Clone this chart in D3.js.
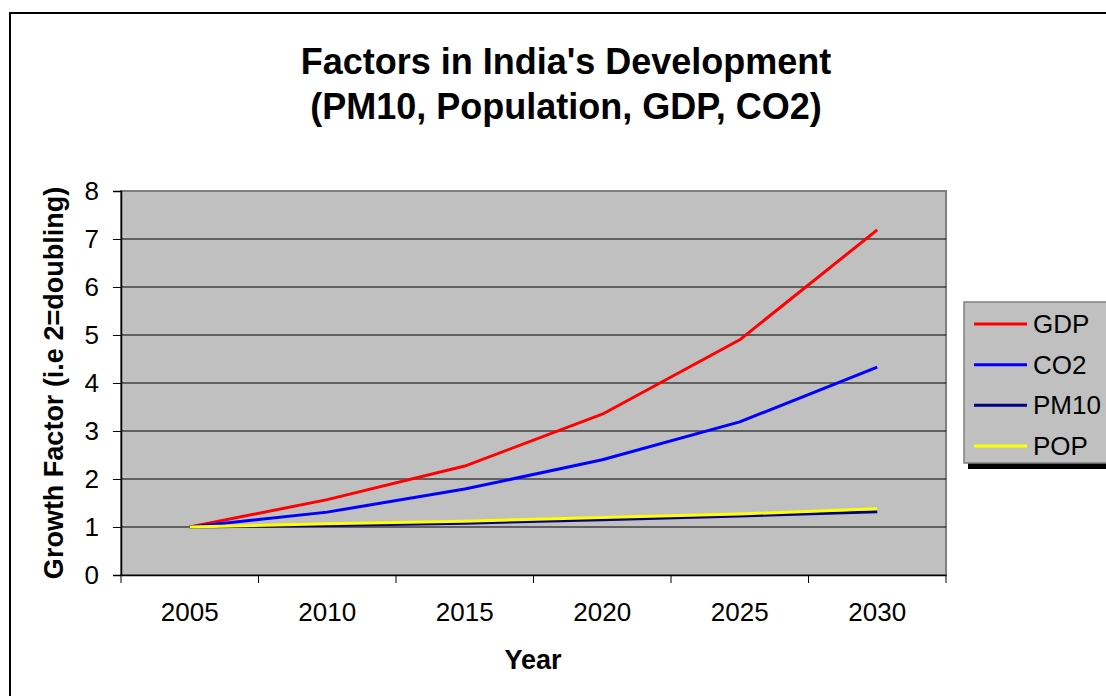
<!DOCTYPE html>
<html><head><meta charset="utf-8">
<script src="https://cdn.jsdelivr.net/npm/d3@7"></script>
<style>html,body{margin:0;padding:0;background:#fff;overflow:hidden}</style>
</head><body>
<svg id="c" width="1106" height="696"></svg>
<script>
const years = ["2005","2010","2015","2020","2025","2030"];
const gdp  = [1, 1.57, 2.27, 3.35, 4.90, 7.19];
const co2  = [1, 1.31, 1.79, 2.40, 3.19, 4.33];
const pm10 = [1, 1.03, 1.08, 1.15, 1.23, 1.32];
const pop  = [1, 1.07, 1.12, 1.20, 1.27, 1.38];
const seriesNames = ["GDP","CO2","PM10","POP"];
const seriesColors = ["#FF0000","#0000FF","#000080","#FFFF00"];
const yTicks = [0,1,2,3,4,5,6,7,8];

const seriesData = [gdp, co2, pm10, pop];
const svg = d3.select("#c");
const font = "Liberation Sans, Arial, sans-serif";

// outer border
svg.append("rect").attr("x",10).attr("y",13).attr("width",1120).attr("height",720)
  .attr("fill","#fff").attr("stroke","#000").attr("stroke-width",2);

const L=121, R=946, T=191, B=575;
const x = d3.scaleBand().domain(years).range([L,R]);
const y = d3.scaleLinear().domain([0,8]).range([B,T]);

// plot background
svg.append("rect").attr("x",L).attr("y",T).attr("width",R-L).attr("height",B-T)
  .attr("fill","#C0C0C0").attr("stroke","#808080").attr("stroke-width",2);

// gridlines
svg.append("g").selectAll("line").data(yTicks.filter(d=>d>0&&d<8)).join("line")
  .attr("x1",L).attr("x2",R).attr("y1",d=>y(d)).attr("y2",d=>y(d))
  .attr("stroke","#000").attr("stroke-width",1);

// y axis
const ya = svg.append("g").attr("transform",`translate(${L},0)`)
  .call(d3.axisLeft(y).tickValues(yTicks).tickSize(8).tickPadding(14).tickFormat(d3.format("d")));
ya.select(".domain").attr("stroke","#000").attr("stroke-width",1.5);
ya.selectAll(".tick line").attr("stroke","#000");
ya.selectAll("text").attr("font-family",font).attr("font-size",26).attr("fill","#000");

// x axis
const xa = svg.append("g").attr("transform",`translate(0,${B})`)
  .call(d3.axisBottom(x).tickSize(0).tickPadding(28));
xa.select(".domain").attr("stroke","#000").attr("stroke-width",1.5);
xa.selectAll("text").attr("font-family",font).attr("font-size",26).attr("fill","#000");
// category boundary ticks
svg.append("g").selectAll("line").data(d3.range(years.length+1)).join("line")
  .attr("x1",i=>L+i*x.step()).attr("x2",i=>L+i*x.step())
  .attr("y1",B).attr("y2",B+8).attr("stroke","#000").attr("stroke-width",1);

// lines
const line = d3.line().x((d,i)=>x(years[i])+x.bandwidth()/2).y(d=>y(d));
svg.append("g").selectAll("path").data(seriesData).join("path")
  .attr("d",d=>line(d)).attr("fill","none")
  .attr("stroke",(d,i)=>seriesColors[i]).attr("stroke-width",3)
  .attr("stroke-linejoin","round");

// title
const title = svg.append("text").attr("text-anchor","middle").attr("font-family",font)
  .attr("font-weight","bold").attr("font-size",36).attr("fill","#000");
title.append("tspan").attr("x",566).attr("y",74).text("Factors in India's Development");
title.append("tspan").attr("x",566).attr("y",119).text("(PM10, Population, GDP, CO2)");

// axis titles
svg.append("text").attr("transform","translate(63,383) rotate(-90)")
  .attr("text-anchor","middle").attr("font-family",font).attr("font-weight","bold")
  .attr("font-size",27).text("Growth Factor (i.e 2=doubling)");
svg.append("text").attr("x",533).attr("y",669).attr("text-anchor","middle")
  .attr("font-family",font).attr("font-weight","bold").attr("font-size",27).text("Year");

// legend
const lg = svg.append("g");
lg.append("rect").attr("x",968).attr("y",306).attr("width",160).attr("height",163).attr("fill","#000");
lg.append("rect").attr("x",964).attr("y",302).attr("width",160).attr("height",161)
  .attr("fill","#C0C0C0").attr("stroke","#808080").attr("stroke-width",1.5);
const ly = d3.scalePoint().domain(seriesNames).range([324,446]);
seriesNames.forEach((n,i)=>{
  lg.append("line").attr("x1",974).attr("x2",1027).attr("y1",ly(n)).attr("y2",ly(n))
    .attr("stroke",seriesColors[i]).attr("stroke-width",3);
  lg.append("text").attr("x",1033).attr("y",ly(n)+9).attr("font-family",font)
    .attr("font-size",26).text(n);
});
</script>
</body></html>
